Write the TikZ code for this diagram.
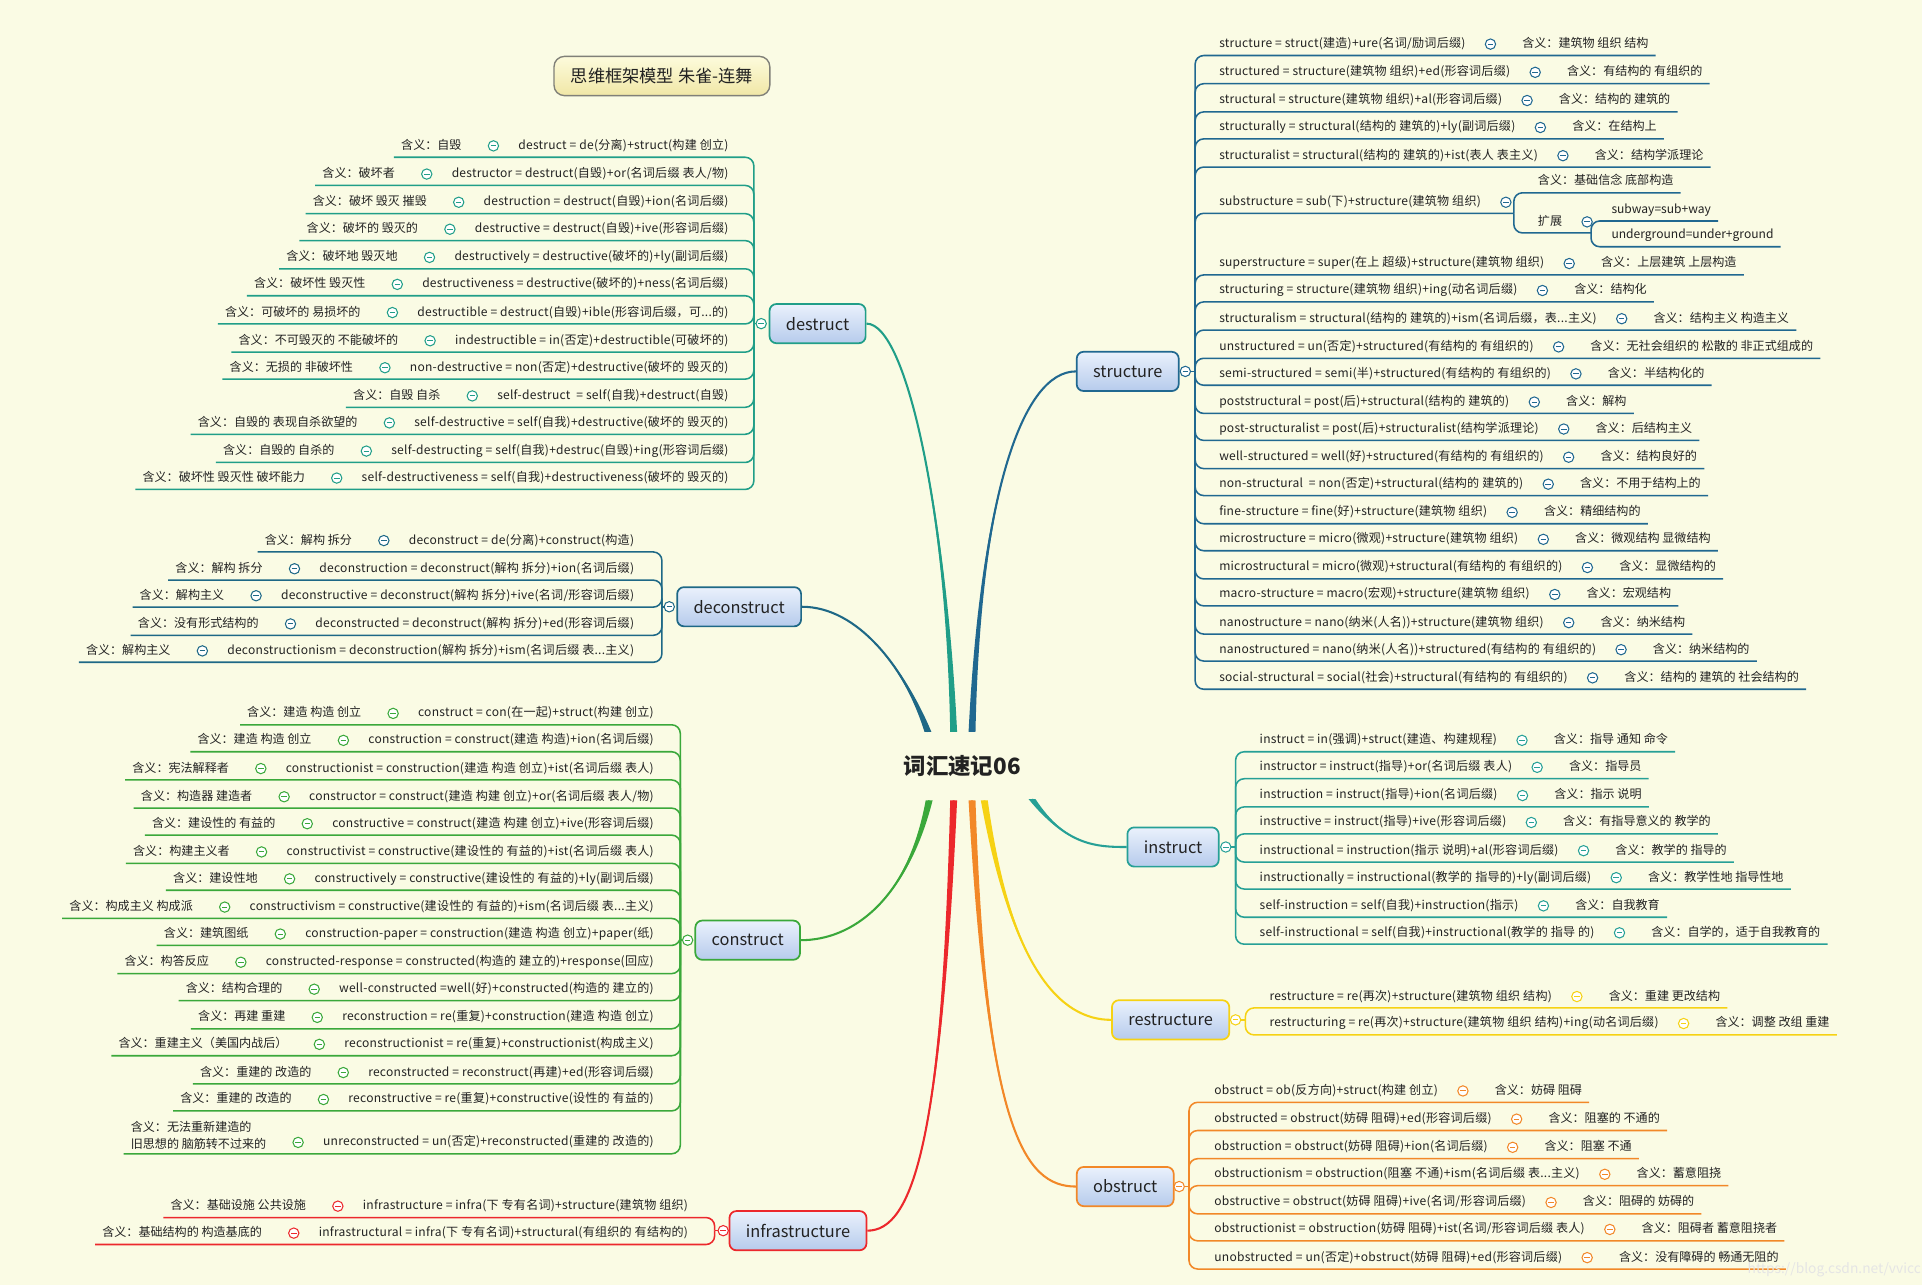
\documentclass[tikz,border=0pt]{standalone}
\usepackage{fontspec}
\setmainfont{Noto Sans CJK SC}
\usetikzlibrary{positioning,calc}

\definecolor{Paper}{RGB}{250,251,228}
\definecolor{InkText}{RGB}{34,34,34}
\definecolor{DestructTeal}{RGB}{32,158,136}
\definecolor{DeconBlue}{RGB}{30,104,134}
\definecolor{ConGreen}{RGB}{58,168,58}
\definecolor{InfraRed}{RGB}{236,40,44}
\definecolor{StructBlue}{RGB}{32,104,144}
\definecolor{InstrTeal}{RGB}{38,160,150}
\definecolor{RestrYellow}{RGB}{246,210,20}
\definecolor{ObstrOrange}{RGB}{242,136,40}
\definecolor{TopicTop}{RGB}{234,241,252}
\definecolor{TopicBottom}{RGB}{182,203,236}
\definecolor{TitleTop}{RGB}{253,251,220}
\definecolor{TitleBottom}{RGB}{240,231,166}
\definecolor{TitleEdge}{RGB}{128,128,120}

\tikzset{
  word/.style={inner xsep=1pt,inner ysep=2.4pt,text height=6pt,text depth=2pt,
               text=InkText,font=\fontsize{7}{8}\selectfont},
  term/.style={word,font=\fontsize{7}{8}\selectfont\addfontfeature{LetterSpace=2}},
  fold/.style={circle,draw=#1,fill=white,minimum size=6pt,inner sep=0pt,line width=0.6pt,
               path picture={\draw[#1,line width=0.6pt]
                 ([xshift=-1.6pt]path picture bounding box.center) --
                 ([xshift=1.6pt]path picture bounding box.center);}},
  link/.style={draw=#1,line width=0.9pt,rounded corners=5pt},
  topic/.style={draw=#1,line width=1pt,rounded corners=4pt,
                top color=TopicTop,bottom color=TopicBottom,
                minimum height=0.8cm,inner xsep=9.5pt,text=InkText,
                font=\fontsize{9.5}{11}\selectfont},
}

% leaf rows: name, y, formula, meaning (branch given by \brc, \txtx, \hubpt)
\newcommand{\lrow}[4]{%
  \node[term,anchor=east] (#1) at (\txtx,#2) {#3};
  \node[fold=\brc,left=10pt of #1] (#1c) {};
  \node[word,left=14pt of #1c] (#1m) {#4};
  \draw[link=\brc] (\hubpt) |- ([xshift=-3pt]#1m.south west);}
\newcommand{\rrow}[4]{%
  \node[term,anchor=west] (#1) at (\txtx,#2) {#3};
  \node[fold=\brc,right=10pt of #1] (#1c) {};
  \node[word,right=14pt of #1c] (#1m) {#4};
  \draw[link=\brc] (\hubpt) |- ([xshift=3pt]#1m.south east);}
% tapered branch from the root
\newcommand{\trunk}[5]{%
  \fill[#1] ([xshift=-2pt]#2) .. controls (#3) and (#4) .. (#5)
     .. controls (#4) and (#3) .. ([xshift=2pt]#2) -- cycle;
  \draw[#1,line width=1.2pt] (#2) .. controls (#3) and (#4) .. (#5);}

\begin{document}
\begin{tikzpicture}[x=0.025cm,y=-0.025cm]
  \fill[Paper] (0,0) rectangle (1568,1048);
  \useasboundingbox (0,0) rectangle (1568,1048);

  % title and root
  \node[draw=TitleEdge,line width=0.8pt,rounded corners=6pt,top color=TitleTop,bottom color=TitleBottom,
        minimum width=4.4cm,minimum height=0.8cm,text=InkText,font=\fontsize{10}{12}\selectfont] (title) at (540,62) {思维框架模型 朱雀-连舞};
  \node[text=InkText,font=\fontsize{13}{15}\selectfont\bfseries] (root) at (785,625) {词汇速记06};

  % main topics
  \node[topic=DestructTeal] (destruct) at (667,264) {destruct};
  \node[topic=DeconBlue] (deconstruct) at (603,495) {deconstruct};
  \node[topic=ConGreen] (construct) at (610,767) {construct};
  \node[topic=InfraRed] (infra) at (651,1004) {infrastructure};
  \node[topic=StructBlue] (structure) at (920,303) {structure};
  \node[topic=InstrTeal] (instruct) at (957,691) {instruct};
  \node[topic=RestrYellow] (restructure) at (955,832) {restructure};
  \node[topic=ObstrOrange] (obstruct) at (918,968) {obstruct};

  % branches out of the root
  \coordinate (r1) at ($(root)+(-28,-28)$);
  \coordinate (r2) at ($(root)+(-7,-28)$);
  \coordinate (r3) at ($(root)+(8,-28)$);
  \coordinate (r4) at ($(root)+(57,27)$);
  \coordinate (r5) at ($(root)+(18,28)$);
  \coordinate (r6) at ($(root)+(8,28)$);
  \coordinate (r7) at ($(root)+(-7,28)$);
  \coordinate (r8) at ($(root)+(-27,28)$);
  \trunk{DeconBlue}{r1}{738,545}{700,495}{deconstruct.east}
  \trunk{DestructTeal}{r2}{772,420}{740,264}{destruct.east}
  \trunk{StructBlue}{r3}{800,400}{835,303}{structure.west}
  \trunk{InstrTeal}{r4}{870,690}{895,691}{instruct.west}
  \trunk{RestrYellow}{r5}{825,790}{865,832}{restructure.west}
  \trunk{ObstrOrange}{r6}{805,920}{835,968}{obstruct.west}
  \trunk{InfraRed}{r7}{768,930}{745,1004}{infra.east}
  \trunk{ConGreen}{r8}{740,735}{695,767}{construct.east}

  % destruct
  \def\brc{DestructTeal}\def\txtx{596}\def\hubpt{dhub}
  \coordinate (dhub) at (615,264);
  \node[fold=\brc] (destructc) at (621,264) {};
  \draw[link=\brc] (dhub) -- (destructc);
  \lrow{d1}{119}{destruct = de(分离)+struct(构建 创立)}{含义：自毁}
  \lrow{d2}{142}{destructor = destruct(自毁)+or(名词后缀 表人/物)}{含义：破坏者}
  \lrow{d3}{165}{destruction = destruct(自毁)+ion(名词后缀)}{含义：破坏 毁灭 摧毁}
  \lrow{d4}{187}{destructive = destruct(自毁)+ive(形容词后缀)}{含义：破坏的 毁灭的}
  \lrow{d5}{210}{destructively = destructive(破坏的)+ly(副词后缀)}{含义：破坏地 毁灭地}
  \lrow{d6}{232}{destructiveness = destructive(破坏的)+ness(名词后缀)}{含义：破坏性 毁灭性}
  \lrow{d7}{255}{destructible = destruct(自毁)+ible(形容词后缀，可...的)}{含义：可破坏的 易损坏的}
  \lrow{d8}{278}{indestructible = in(否定)+destructible(可破坏的)}{含义：不可毁灭的 不能破坏的}
  \lrow{d9}{300}{non-destructive = non(否定)+destructive(破坏的 毁灭的)}{含义：无损的 非破坏性}
  \lrow{d10}{323}{self-destruct \ = self(自我)+destruct(自毁)}{含义：自毁 自杀}
  \lrow{d11}{345}{self-destructive = self(自我)+destructive(破坏的 毁灭的)}{含义：自毁的 表现自杀欲望的}
  \lrow{d12}{368}{self-destructing = self(自我)+destruc(自毁)+ing(形容词后缀)}{含义：自毁的 自杀的}
  \lrow{d13}{390}{self-destructiveness = self(自我)+destructiveness(破坏的 毁灭的)}{含义：破坏性 毁灭性 破坏能力}

  % deconstruct
  \def\brc{DeconBlue}\def\txtx{519}\def\hubpt{ehub}
  \coordinate (ehub) at (540,495);
  \node[fold=\brc] (deconstructc) at (546,495) {};
  \draw[link=\brc] (ehub) -- (deconstructc);
  \lrow{e1}{441}{deconstruct = de(分离)+construct(构造)}{含义：解构 拆分}
  \lrow{e2}{464}{deconstruction = deconstruct(解构 拆分)+ion(名词后缀)}{含义：解构 拆分}
  \lrow{e3}{486}{deconstructive = deconstruct(解构 拆分)+ive(名词/形容词后缀)}{含义：解构主义}
  \lrow{e4}{509}{deconstructed = deconstruct(解构 拆分)+ed(形容词后缀)}{含义：没有形式结构的}
  \lrow{e5}{531}{deconstructionism = deconstruction(解构 拆分)+ism(名词后缀 表...主义)}{含义：解构主义}

  % construct
  \def\brc{ConGreen}\def\txtx{535}\def\hubpt{chub}
  \coordinate (chub) at (555,767);
  \node[fold=\brc] (constructc) at (561,767) {};
  \draw[link=\brc] (chub) -- (constructc);
  \lrow{c1}{582}{construct = con(在一起)+struct(构建 创立)}{含义：建造 构造 创立}
  \lrow{c2}{604}{construction = construct(建造 构造)+ion(名词后缀)}{含义：建造 构造 创立}
  \lrow{c3}{627}{constructionist = construction(建造 构造 创立)+ist(名词后缀 表人)}{含义：宪法解释者}
  \lrow{c4}{650}{constructor = construct(建造 构建 创立)+or(名词后缀 表人/物)}{含义：构造器 建造者}
  \lrow{c5}{672}{constructive = construct(建造 构建 创立)+ive(形容词后缀)}{含义：建设性的 有益的}
  \lrow{c6}{695}{constructivist = constructive(建设性的 有益的)+ist(名词后缀 表人)}{含义：构建主义者}
  \lrow{c7}{717}{constructively = constructive(建设性的 有益的)+ly(副词后缀)}{含义：建设性地}
  \lrow{c8}{740}{constructivism = constructive(建设性的 有益的)+ism(名词后缀 表...主义)}{含义：构成主义 构成派}
  \lrow{c9}{762}{construction-paper = construction(建造 构造 创立)+paper(纸)}{含义：建筑图纸}
  \lrow{c10}{785}{constructed-response = constructed(构造的 建立的)+response(回应)}{含义：构答反应}
  \lrow{c11}{807}{well-constructed =well(好)+constructed(构造的 建立的)}{含义：结构合理的}
  \lrow{c12}{830}{reconstruction = re(重复)+construction(建造 构造 创立)}{含义：再建 重建}
  \lrow{c13}{852}{reconstructionist = re(重复)+constructionist(构成主义)}{含义：重建主义（美国内战后）}
  \lrow{c14}{875}{reconstructed = reconstruct(再建)+ed(形容词后缀)}{含义：重建的 改造的}
  \lrow{c15}{897}{reconstructive = re(重复)+constructive(设性的 有益的)}{含义：重建的 改造的}
  \node[term,anchor=east] (c16) at (\txtx,932) {unreconstructed = un(否定)+reconstructed(重建的 改造的)};
  \node[fold=\brc,left=10pt of c16] (c16c) {};
  \path ([xshift=-14pt]c16c.west) coordinate (c16k);
  \node[inner xsep=1pt,inner ysep=2.4pt,text=InkText,font=\fontsize{7}{10}\selectfont,
        align=left,anchor=south east] (c16m) at (c16k |- c16.south) {含义：无法重新建造的\\旧思想的 脑筋转不过来的};
  \draw[link=\brc] (\hubpt) |- ([xshift=-3pt]c16m.south west);

  % infrastructure
  \def\brc{InfraRed}\def\txtx{563}\def\hubpt{fhub}
  \coordinate (fhub) at (583,1004);
  \node[fold=\brc] (infrac) at (590,1004) {};
  \draw[link=\brc] (fhub) -- (infrac);
  \lrow{f1}{984}{infrastructure = infra(下 专有名词)+structure(建筑物 组织)}{含义：基础设施 公共设施}
  \lrow{f2}{1006}{infrastructural = infra(下 专有名词)+structural(有组织的 有结构的)}{含义：基础结构的 构造基底的}

  % structure
  \def\brc{StructBlue}\def\txtx{993}\def\hubpt{shub}
  \coordinate (shub) at (975,303);
  \node[fold=\brc] (structurec) at (967,303) {};
  \draw[link=\brc] (shub) -- (structurec);
  \rrow{s1}{36}{structure = struct(建造)+ure(名词/励词后缀)}{含义：建筑物 组织 结构}
  \rrow{s2}{59}{structured = structure(建筑物 组织)+ed(形容词后缀)}{含义：有结构的 有组织的}
  \rrow{s3}{82}{structural = structure(建筑物 组织)+al(形容词后缀)}{含义：结构的 建筑的}
  \rrow{s4}{104}{structurally = structural(结构的 建筑的)+ly(副词后缀)}{含义：在结构上}
  \rrow{s5}{127}{structuralist = structural(结构的 建筑的)+ist(表人 表主义)}{含义：结构学派理论}
  \node[term,anchor=west] (s6) at (\txtx,165) {substructure = sub(下)+structure(建筑物 组织)};
  \node[fold=\brc,right=10pt of s6] (s6c) {};
  \coordinate (subhub) at (1235,174);
  \draw[link=\brc] (\hubpt) |- (subhub);
  \node[word,anchor=west] (s6m) at (1253,148) {含义：基础信念 底部构造};
  \node[word,anchor=west] (s6x) at (1253,181) {扩展};
  \node[fold=\brc,right=10pt of s6x] (s6xc) {};
  \coordinate (subhub2) at (1298,190);
  \draw[link=\brc] (subhub) |- ([xshift=3pt]s6m.south east);
  \draw[link=\brc] (subhub) |- (subhub2);
  \node[word,anchor=west] (s6y) at (1313,171) {subway=sub+way};
  \node[word,anchor=west] (s6z) at (1313,192) {underground=under+ground};
  \draw[link=\brc] (subhub2) |- ([xshift=3pt]s6y.south east);
  \draw[link=\brc] (subhub2) |- ([xshift=3pt]s6z.south east);
  \rrow{s7}{215}{superstructure = super(在上 超级)+structure(建筑物 组织)}{含义：上层建筑 上层构造}
  \rrow{s8}{237}{structuring = structure(建筑物 组织)+ing(动名词后缀)}{含义：结构化}
  \rrow{s9}{260}{structuralism = structural(结构的 建筑的)+ism(名词后缀，表...主义)}{含义：结构主义 构造主义}
  \rrow{s10}{283}{unstructured = un(否定)+structured(有结构的 有组织的)}{含义：无社会组织的 松散的 非正式组成的}
  \rrow{s11}{305}{semi-structured = semi(半)+structured(有结构的 有组织的)}{含义：半结构化的}
  \rrow{s12}{328}{poststructural = post(后)+structural(结构的 建筑的)}{含义：解构}
  \rrow{s13}{350}{post-structuralist = post(后)+structuralist(结构学派理论)}{含义：后结构主义}
  \rrow{s14}{373}{well-structured = well(好)+structured(有结构的 有组织的)}{含义：结构良好的}
  \rrow{s15}{395}{non-structural \ = non(否定)+structural(结构的 建筑的)}{含义：不用于结构上的}
  \rrow{s16}{418}{fine-structure = fine(好)+structure(建筑物 组织)}{含义：精细结构的}
  \rrow{s17}{440}{microstructure = micro(微观)+structure(建筑物 组织)}{含义：微观结构 显微结构}
  \rrow{s18}{463}{microstructural = micro(微观)+structural(有结构的 有组织的)}{含义：显微结构的}
  \rrow{s19}{485}{macro-structure = macro(宏观)+structure(建筑物 组织)}{含义：宏观结构}
  \rrow{s20}{508}{nanostructure = nano(纳米(人名))+structure(建筑物 组织)}{含义：纳米结构}
  \rrow{s21}{530}{nanostructured = nano(纳米(人名))+structured(有结构的 有组织的)}{含义：纳米结构的}
  \rrow{s22}{553}{social-structural = social(社会)+structural(有结构的 有组织的)}{含义：结构的 建筑的 社会结构的}

  % instruct
  \def\brc{InstrTeal}\def\txtx{1026}\def\hubpt{ihub}
  \coordinate (ihub) at (1008,691);
  \node[fold=\brc] (instructc) at (1000,691) {};
  \draw[link=\brc] (ihub) -- (instructc);
  \rrow{i1}{604}{instruct = in(强调)+struct(建造、构建规程)}{含义：指导 通知 命令}
  \rrow{i2}{626}{instructor = instruct(指导)+or(名词后缀 表人)}{含义：指导员}
  \rrow{i3}{649}{instruction = instruct(指导)+ion(名词后缀)}{含义：指示 说明}
  \rrow{i4}{671}{instructive = instruct(指导)+ive(形容词后缀)}{含义：有指导意义的 教学的}
  \rrow{i5}{694}{instructional = instruction(指示 说明)+al(形容词后缀)}{含义：教学的 指导的}
  \rrow{i6}{716}{instructionally = instructional(教学的 指导的)+ly(副词后缀)}{含义：教学性地 指导性地}
  \rrow{i7}{739}{self-instruction = self(自我)+instruction(指示)}{含义：自我教育}
  \rrow{i8}{761}{self-instructional = self(自我)+instructional(教学的 指导 的)}{含义：自学的，适于自我教育的}

  % restructure
  \def\brc{RestrYellow}\def\txtx{1034}\def\hubpt{rhub}
  \coordinate (rhub) at (1016,832);
  \node[fold=\brc] (restructurec) at (1008,832) {};
  \draw[link=\brc] (rhub) -- (restructurec);
  \rrow{rs1}{813}{restructure = re(再次)+structure(建筑物 组织 结构)}{含义：重建 更改结构}
  \rrow{rs2}{835}{restructuring = re(再次)+structure(建筑物 组织 结构)+ing(动名词后缀)}{含义：调整 改组 重建}

  % obstruct
  \def\brc{ObstrOrange}\def\txtx{989}\def\hubpt{ohub}
  \coordinate (ohub) at (970,968);
  \node[fold=\brc] (obstructc) at (962,968) {};
  \draw[link=\brc] (ohub) -- (obstructc);
  \rrow{o1}{890}{obstruct = ob(反方向)+struct(构建 创立)}{含义：妨碍 阻碍}
  \rrow{o2}{913}{obstructed = obstruct(妨碍 阻碍)+ed(形容词后缀)}{含义：阻塞的 不通的}
  \rrow{o3}{936}{obstruction = obstruct(妨碍 阻碍)+ion(名词后缀)}{含义：阻塞 不通}
  \rrow{o4}{958}{obstructionism = obstruction(阻塞 不通)+ism(名词后缀 表...主义)}{含义：蓄意阻挠}
  \rrow{o5}{981}{obstructive = obstruct(妨碍 阻碍)+ive(名词/形容词后缀)}{含义：阻碍的 妨碍的}
  \rrow{o6}{1003}{obstructionist = obstruction(妨碍 阻碍)+ist(名词/形容词后缀 表人)}{含义：阻碍者 蓄意阻挠者}
  \rrow{o7}{1026}{unobstructed = un(否定)+obstruct(妨碍 阻碍)+ed(形容词后缀)}{含义：没有障碍的 畅通无阻的}

  % watermark
  \node[text=black!10,font=\fontsize{8}{9}\selectfont,anchor=east] (mark) at (1572,1036) {https://blog.csdn.net/vvicc};
\end{tikzpicture}
\end{document}
